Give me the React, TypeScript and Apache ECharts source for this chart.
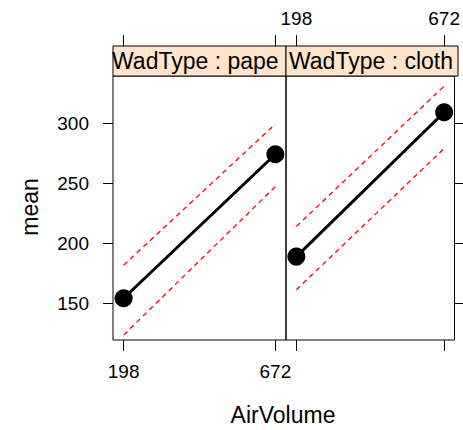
import React, { useEffect, useRef } from "react";
import * as echarts from "echarts";

const airVolume = [198, 672];
const paperMean = [154.2, 274.2];
const paperUpper = [181.7, 299.4];
const paperLower = [123.6, 247.2];
const clothMean = [188.9, 309.2];
const clothUpper = [214, 331];
const clothLower = [161.3, 279];
const xTicks = [198, 672];
const yTicks = [150, 200, 250, 300];
const panelLabels = ["WadType : paper", "WadType : cloth"];

const FONT = "Liberation Sans, Arial, sans-serif";

const pairs = (ys: number[]) => airVolume.map((x, i) => [x, ys[i]]);

export default function App() {
  const ref = useRef<HTMLDivElement>(null);
  useEffect(() => {
    if (!ref.current) return;
    const chart = echarts.init(ref.current, undefined, { renderer: "svg" });
    const xBase = (gridIndex: number, position: "top" | "bottom", labels: boolean, offset: number) => ({
      type: "value",
      gridIndex,
      position,
      offset,
      min: 164.8,
      max: 705.2,
      axisLine: { show: false },
      splitLine: { show: false },
      axisTick: { show: true, inside: false, length: 11, customValues: xTicks, lineStyle: { color: "#000", width: 1 } },
      axisLabel: {
        show: labels,
        customValues: xTicks,
        fontSize: 19,
        fontFamily: FONT,
        color: "#000",
        margin: position === "bottom" ? 22 : 18,
      },
    });
    const yBase = (gridIndex: number, position: "left" | "right", labels: boolean) => ({
      type: "value",
      gridIndex,
      position,
      min: 119.4,
      max: 339.4,
      axisLine: { show: false },
      splitLine: { show: false },
      axisTick: { show: true, inside: false, length: 10, customValues: yTicks, lineStyle: { color: "#000", width: 1 } },
      axisLabel: {
        show: labels,
        customValues: yTicks,
        fontSize: 19,
        fontFamily: FONT,
        color: "#000",
        margin: 24,
      },
    });
    const meanSeries = (data: number[], xi: number, yi: number) => ({
      type: "line",
      xAxisIndex: xi,
      yAxisIndex: yi,
      data: pairs(data),
      symbol: "circle",
      symbolSize: 18,
      itemStyle: { color: "#000" },
      lineStyle: { color: "#000", width: 3 },
      z: 3,
    });
    const bandSeries = (data: number[], xi: number, yi: number) => ({
      type: "line",
      xAxisIndex: xi,
      yAxisIndex: yi,
      data: pairs(data),
      symbol: "none",
      lineStyle: { color: "#ff0000", width: 1.3, type: [5, 4] },
      z: 2,
    });
    const strips = [
      { x: 113, w: 173, align: "left", tx: 112 },
      { x: 286, w: 172, align: "center", tx: 371 },
    ];
    chart.setOption({
      animation: false,
      backgroundColor: "#fff",
      grid: [
        { left: 113, top: 76, width: 173, height: 264, show: true, borderColor: "#000", borderWidth: 1, backgroundColor: "transparent" },
        { left: 286, top: 76, width: 172, height: 264, show: true, borderColor: "#000", borderWidth: 1, backgroundColor: "transparent" },
      ],
      xAxis: [
        xBase(0, "bottom", true, 0),
        xBase(0, "top", false, 30),
        xBase(1, "bottom", false, 0),
        xBase(1, "top", true, 30),
      ],
      yAxis: [yBase(0, "left", true), yBase(1, "right", false)],
      series: [
        bandSeries(paperUpper, 0, 0),
        bandSeries(paperLower, 0, 0),
        meanSeries(paperMean, 0, 0),
        bandSeries(clothUpper, 2, 1),
        bandSeries(clothLower, 2, 1),
        meanSeries(clothMean, 2, 1),
      ],
      graphic: [
        ...strips.map((s, i) => ({
          type: "group",
          children: [
            {
              type: "rect",
              shape: { x: s.x, y: 46, width: s.w, height: 30 },
              style: { fill: "#FFE5CC", stroke: "#000", lineWidth: 1 },
            },
            {
              type: "text",
              x: s.tx,
              y: 61,
              style: {
                text: panelLabels[i],
                fontSize: 23,
                fontFamily: FONT,
                fill: "#000",
                align: s.align,
                verticalAlign: "middle",
                width: s.w,
                overflow: "truncate",
                ellipsis: "",
              },
            },
          ],
        })),
        {
          type: "text",
          x: 30,
          y: 207,
          rotation: Math.PI / 2,
          style: { text: "mean", fontSize: 23, fontFamily: FONT, fill: "#000", align: "center", verticalAlign: "middle" },
        },
        {
          type: "text",
          x: 283,
          y: 415,
          style: { text: "AirVolume", fontSize: 23, fontFamily: FONT, fill: "#000", align: "center", verticalAlign: "middle" },
        },
      ],
    });
    return () => chart.dispose();
  }, []);
  return <div ref={ref} style={{ position: "absolute", left: 0, top: 0, width: 463, height: 430 }} />;
}
